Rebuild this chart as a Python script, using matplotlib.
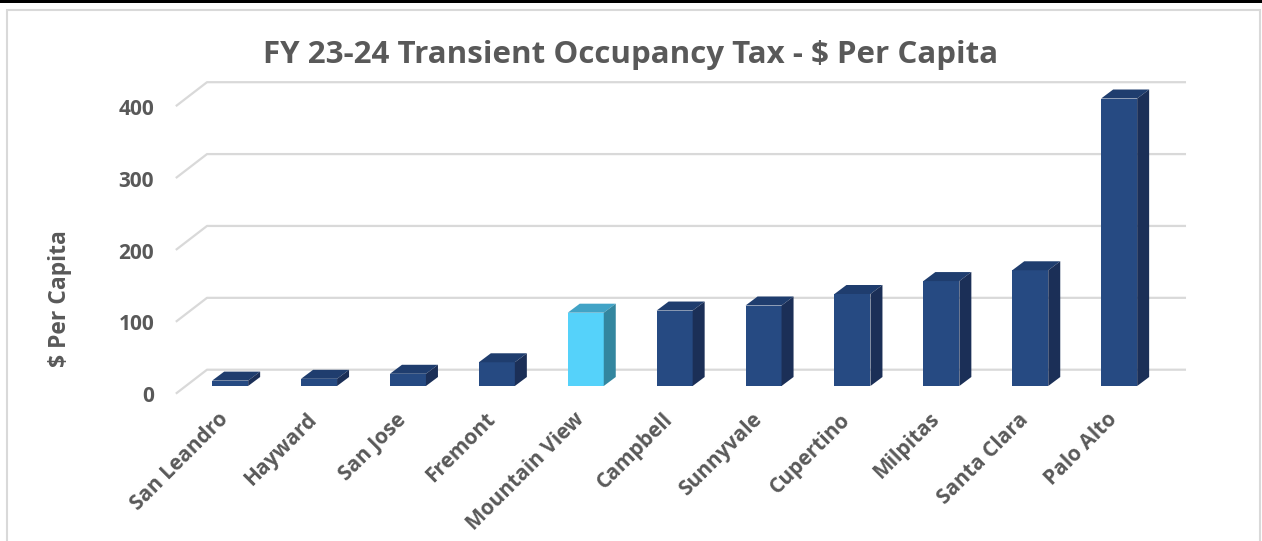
import matplotlib
matplotlib.use('Agg')
import matplotlib.pyplot as plt
from matplotlib.patches import Polygon, Rectangle
from matplotlib.lines import Line2D
from matplotlib.transforms import ScaledTranslation

plt.rcParams['font.family'] = ['Open Sans', 'DejaVu Sans']

# ---- data ----
cities = ["San Leandro", "Hayward", "San Jose", "Fremont", "Mountain View",
          "Campbell", "Sunnyvale", "Cupertino", "Milpitas", "Santa Clara", "Palo Alto"]
values = [7.5, 10, 17, 33, 102, 105, 112, 128, 146, 161, 400]
highlight = "Mountain View"
yticks = [0, 100, 200, 300, 400]
title = "FY 23-24 Transient Occupancy Tax - $ Per Capita"
ylabel = "$ Per Capita"

# ---- styles ----
W, H = 1262, 541
TXT = '#595959'
GRID = '#D9D9D9'
FRONT, TOP, SIDE = '#264A82', '#1F3D6E', '#1B2F57'
HFRONT, HTOP, HSIDE = '#55D2FA', '#41A3C6', '#33869F'

fig = plt.figure(figsize=(W / 100, H / 100), dpi=100)
ax = fig.add_axes([185.7 / W, (H - 386) / H, 977.9 / W, 287.5 / H])
ax.set_xlim(-0.5, len(cities) - 0.5)
ax.set_ylim(0, 400)
for s in ax.spines.values():
    s.set_visible(False)


def px2data(dx, dy):
    p0 = ax.transData.transform((0, 0))
    p1 = ax.transData.transform((1, 1))
    return dx / (p1[0] - p0[0]), dy / (p1[1] - p0[1])


# walls / gridlines
bx, by = px2data(21.3, 16.3)
fx, fy = px2data(-9, -7)
x0, x1 = -0.5, len(cities) - 0.5
for v in yticks:
    ax.add_line(Line2D([x0 + fx, x0 + bx, x1 + bx], [v + fy, v + by, v + by],
                       color=GRID, lw=1.6, clip_on=False, zorder=1))

# bars (front faces)
xs = list(range(len(cities)))
w = 0.405
fronts = [HFRONT if c == highlight else FRONT for c in cities]
ax.bar(xs, values, width=w, color=fronts, zorder=3, clip_on=False)

# depth faces
dx, dy = px2data(12, 9)
for x, v, c in zip(xs, values, cities):
    top_c = HTOP if c == highlight else TOP
    side_c = HSIDE if c == highlight else SIDE
    top = Polygon([(x - w / 2, v), (x + w / 2, v), (x + w / 2 + dx, v + dy), (x - w / 2 + dx, v + dy)],
                  closed=True, facecolor=top_c, edgecolor='none', zorder=3, clip_on=False)
    side = Polygon([(x + w / 2, 0), (x + w / 2 + dx, dy), (x + w / 2 + dx, v + dy), (x + w / 2, v)],
                   closed=True, facecolor=side_c, edgecolor='none', zorder=3, clip_on=False)
    ax.add_patch(top)
    ax.add_patch(side)

# ticks
ax.set_yticks(yticks)
ax.set_yticklabels([str(t) for t in yticks], fontsize=15, fontweight='bold', color=TXT)
ax.tick_params(axis='y', length=0, pad=22.8)
off = ScaledTranslation(0, -8.3 / 100, fig.dpi_scale_trans)
for lbl in ax.get_yticklabels():
    lbl.set_transform(lbl.get_transform() + off)

ax.set_xticks(xs)
ax.set_xticklabels(cities, rotation=45, ha='right', va='center', rotation_mode='anchor',
                   fontsize=15, fontweight='bold', color=TXT)
ax.tick_params(axis='x', length=0, pad=22)
xoff = ScaledTranslation(-5 / 100, 0, fig.dpi_scale_trans)
for lbl in ax.get_xticklabels():
    lbl.set_transform(lbl.get_transform() + xoff)

# title and axis label
fig.text(0.5, 1 - 63.3 / H, title, ha='center', va='baseline', fontsize=22.5,
         fontweight='bold', color=TXT)
fig.text(60 / W, 1 - 299 / H, ylabel, rotation=90, ha='center', va='center',
         fontsize=16.5, fontweight='bold', color=TXT)

# frame
fig.patches.append(Rectangle((0, 1 - 3.3 / H), 1, 3.3 / H, transform=fig.transFigure,
                             facecolor='black', edgecolor='none'))
fig.patches.append(Rectangle((6.5 / W, -0.1), (1260 - 6.5) / W, (H - 9.5) / H + 0.1,
                             transform=fig.transFigure, fill=False, edgecolor=GRID, lw=1.5))

fig.savefig('out.png', dpi=100)
